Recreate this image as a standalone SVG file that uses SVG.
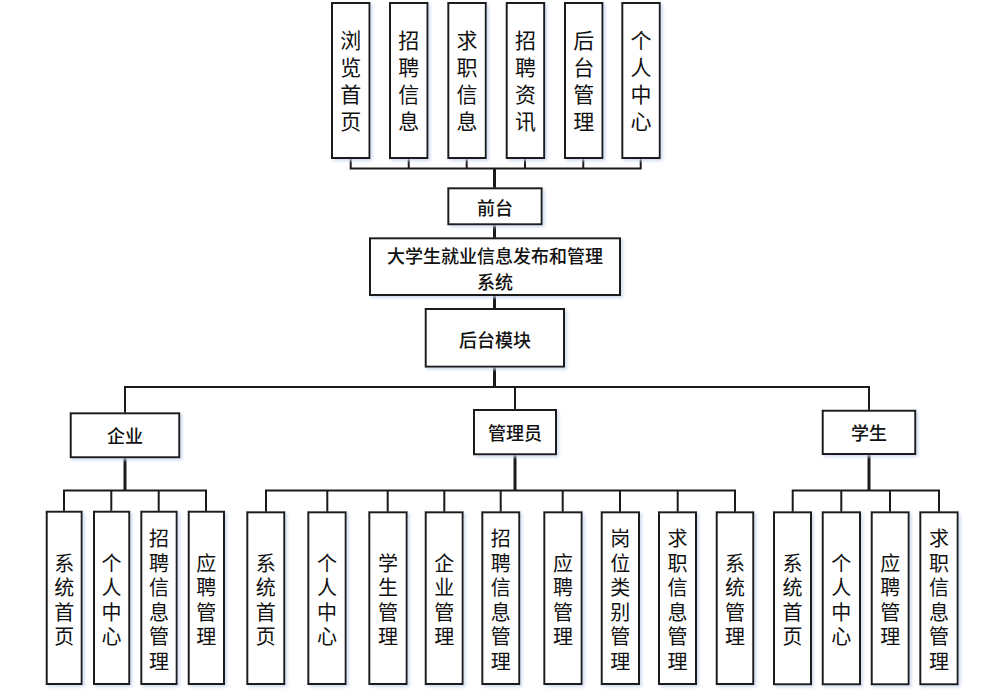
<svg xmlns="http://www.w3.org/2000/svg" width="982" height="694" viewBox="0 0 982 694">
<defs>
<filter id="sh" x="-20%" y="-20%" width="140%" height="140%">
<feDropShadow dx="2" dy="2" stdDeviation="1.5" flood-color="#c8d4ec" flood-opacity="0.8"/>
</filter>
<style>
rect{fill:#fff;stroke:#1a1a1a;stroke-width:2;filter:url(#sh)}
text{font-family:"Noto Sans CJK SC","Microsoft YaHei",sans-serif;fill:#111;text-anchor:middle;dominant-baseline:central}
.v{font-size:20px}
.vt{font-size:21px}
.h{font-size:18px;font-weight:500}
.c path,.c line{stroke:#1a1a1a;fill:none;stroke-width:2}
.c .t{stroke-width:3}
</style>
</defs>
<g class="c" id="connectors">
<path d="M350.7 158V168.5H640.7V158M408.7 158V168.5M466.7 158V168.5M525 158V168.5M583.3 158V168.5"/>
<line class="t" x1="494.5" y1="168.5" x2="494.5" y2="188"/>
<line class="t" x1="494.5" y1="224" x2="494.5" y2="238"/>
<line class="t" x1="494.5" y1="295" x2="494.5" y2="309"/>
<line class="t" x1="494.5" y1="367" x2="494.5" y2="387"/>
<path d="M125 413V387H869V410.5M515 387V410"/>
<line class="t" x1="125" y1="457" x2="125" y2="490.5"/>
<path d="M64 512V490.5H206V512M111.3 490.5V512M158.7 490.5V512"/>
<line class="t" x1="515" y1="454" x2="515" y2="490.5"/>
<path d="M266 512V490.5H735V512M327.3 490.5V512M387.7 490.5V512M444.3 490.5V512M500.7 490.5V512M562.7 490.5V512M620 490.5V512M677.7 490.5V512"/>
<line class="t" x1="869" y1="454" x2="869" y2="490.5"/>
<path d="M792.7 512V490.5H939V512M841.3 490.5V512M890 490.5V512"/>
</g>
<g id="n_liulan"><rect x="332" y="3" width="37.5" height="155"/><text class="vt" x="350.7"><tspan y="39">浏</tspan><tspan x="350.7" y="66">览</tspan><tspan x="350.7" y="93">首</tspan><tspan x="350.7" y="120">页</tspan></text></g>
<g id="n_zpxx"><rect x="390" y="3" width="37.5" height="155"/><text class="vt" x="408.7"><tspan y="39">招</tspan><tspan x="408.7" y="66">聘</tspan><tspan x="408.7" y="93">信</tspan><tspan x="408.7" y="120">息</tspan></text></g>
<g id="n_qzxx"><rect x="448.3" y="3" width="37.5" height="155"/><text class="vt" x="467"><tspan y="39">求</tspan><tspan x="467" y="66">职</tspan><tspan x="467" y="93">信</tspan><tspan x="467" y="120">息</tspan></text></g>
<g id="n_zpzx"><rect x="506.7" y="3" width="37.5" height="155"/><text class="vt" x="525.4"><tspan y="39">招</tspan><tspan x="525.4" y="66">聘</tspan><tspan x="525.4" y="93">资</tspan><tspan x="525.4" y="120">讯</tspan></text></g>
<g id="n_htgl"><rect x="565" y="3" width="37.5" height="155"/><text class="vt" x="583.7"><tspan y="39">后</tspan><tspan x="583.7" y="66">台</tspan><tspan x="583.7" y="93">管</tspan><tspan x="583.7" y="120">理</tspan></text></g>
<g id="n_grzx"><rect x="622.3" y="3" width="37.5" height="155"/><text class="vt" x="641"><tspan y="39">个</tspan><tspan x="641" y="66">人</tspan><tspan x="641" y="93">中</tspan><tspan x="641" y="120">心</tspan></text></g>
<g id="n_qiantai"><rect x="448.3" y="188.3" width="93.4" height="36"/><text class="h" x="495" y="207">前台</text></g>
<g id="n_system"><rect x="370" y="238.3" width="250" height="56.7"/><text class="h" x="495"><tspan y="254.5">大学生就业信息发布和管理</tspan><tspan x="495" y="280.5">系统</tspan></text></g>
<g id="n_houtai"><rect x="425.7" y="309" width="138.3" height="57.7"/><text class="h" x="495" y="339">后台模块</text></g>
<g id="n_qiye"><rect x="70.7" y="413.3" width="108.6" height="44"/><text class="h" x="125" y="435">企业</text></g>
<g id="n_admin"><rect x="474" y="410" width="82" height="44.3"/><text class="h" x="515" y="432">管理员</text></g>
<g id="n_student"><rect x="822.7" y="410.7" width="92.6" height="43.3"/><text class="h" x="869" y="432">学生</text></g>
<g id="q1"><rect x="46.7" y="511.7" width="35" height="172.3"/><text class="v" x="64.2"><tspan y="561.5">系</tspan><tspan x="64.2" y="586">统</tspan><tspan x="64.2" y="610.5">首</tspan><tspan x="64.2" y="635">页</tspan></text></g>
<g id="q2"><rect x="94" y="511.7" width="35.3" height="172.3"/><text class="v" x="111.6"><tspan y="561.5">个</tspan><tspan x="111.6" y="586">人</tspan><tspan x="111.6" y="610.5">中</tspan><tspan x="111.6" y="635">心</tspan></text></g>
<g id="q3"><rect x="141.3" y="511.7" width="35.4" height="172.3"/><text class="v" x="159"><tspan y="537">招</tspan><tspan x="159" y="561.5">聘</tspan><tspan x="159" y="586">信</tspan><tspan x="159" y="610.5">息</tspan><tspan x="159" y="635">管</tspan><tspan x="159" y="659.5">理</tspan></text></g>
<g id="q4"><rect x="188.7" y="511.7" width="35.3" height="172.3"/><text class="v" x="206.3"><tspan y="561.5">应</tspan><tspan x="206.3" y="586">聘</tspan><tspan x="206.3" y="610.5">管</tspan><tspan x="206.3" y="635">理</tspan></text></g>
<g id="a1"><rect x="247.3" y="512.3" width="37" height="171.7"/><text class="v" x="265.8"><tspan y="561.5">系</tspan><tspan x="265.8" y="586">统</tspan><tspan x="265.8" y="610.5">首</tspan><tspan x="265.8" y="635">页</tspan></text></g>
<g id="a2"><rect x="308.3" y="512.3" width="37.4" height="171.7"/><text class="v" x="327"><tspan y="561.5">个</tspan><tspan x="327" y="586">人</tspan><tspan x="327" y="610.5">中</tspan><tspan x="327" y="635">心</tspan></text></g>
<g id="a3"><rect x="369.3" y="512.3" width="37.4" height="171.7"/><text class="v" x="388"><tspan y="561.5">学</tspan><tspan x="388" y="586">生</tspan><tspan x="388" y="610.5">管</tspan><tspan x="388" y="635">理</tspan></text></g>
<g id="a4"><rect x="425.7" y="512.3" width="37" height="171.7"/><text class="v" x="444.2"><tspan y="561.5">企</tspan><tspan x="444.2" y="586">业</tspan><tspan x="444.2" y="610.5">管</tspan><tspan x="444.2" y="635">理</tspan></text></g>
<g id="a5"><rect x="482.3" y="512.3" width="37" height="171.7"/><text class="v" x="500.8"><tspan y="537">招</tspan><tspan x="500.8" y="561.5">聘</tspan><tspan x="500.8" y="586">信</tspan><tspan x="500.8" y="610.5">息</tspan><tspan x="500.8" y="635">管</tspan><tspan x="500.8" y="659.5">理</tspan></text></g>
<g id="a6"><rect x="544.3" y="512.3" width="37.4" height="171.7"/><text class="v" x="563"><tspan y="561.5">应</tspan><tspan x="563" y="586">聘</tspan><tspan x="563" y="610.5">管</tspan><tspan x="563" y="635">理</tspan></text></g>
<g id="a7"><rect x="601.7" y="512.3" width="37.3" height="171.7"/><text class="v" x="620.3"><tspan y="537">岗</tspan><tspan x="620.3" y="561.5">位</tspan><tspan x="620.3" y="586">类</tspan><tspan x="620.3" y="610.5">别</tspan><tspan x="620.3" y="635">管</tspan><tspan x="620.3" y="659.5">理</tspan></text></g>
<g id="a8"><rect x="659" y="512.3" width="37" height="171.7"/><text class="v" x="677.5"><tspan y="537">求</tspan><tspan x="677.5" y="561.5">职</tspan><tspan x="677.5" y="586">信</tspan><tspan x="677.5" y="610.5">息</tspan><tspan x="677.5" y="635">管</tspan><tspan x="677.5" y="659.5">理</tspan></text></g>
<g id="a9"><rect x="716.7" y="512.3" width="36.6" height="171.7"/><text class="v" x="735"><tspan y="561.5">系</tspan><tspan x="735" y="586">统</tspan><tspan x="735" y="610.5">管</tspan><tspan x="735" y="635">理</tspan></text></g>
<g id="s1"><rect x="774" y="512.3" width="37" height="172"/><text class="v" x="792.5"><tspan y="561.5">系</tspan><tspan x="792.5" y="586">统</tspan><tspan x="792.5" y="610.5">首</tspan><tspan x="792.5" y="635">页</tspan></text></g>
<g id="s2"><rect x="822.7" y="512.3" width="37.3" height="172"/><text class="v" x="841.3"><tspan y="561.5">个</tspan><tspan x="841.3" y="586">人</tspan><tspan x="841.3" y="610.5">中</tspan><tspan x="841.3" y="635">心</tspan></text></g>
<g id="s3"><rect x="871.7" y="512.3" width="37" height="172"/><text class="v" x="890.2"><tspan y="561.5">应</tspan><tspan x="890.2" y="586">聘</tspan><tspan x="890.2" y="610.5">管</tspan><tspan x="890.2" y="635">理</tspan></text></g>
<g id="s4"><rect x="920.3" y="512.3" width="37.4" height="172"/><text class="v" x="939"><tspan y="537">求</tspan><tspan x="939" y="561.5">职</tspan><tspan x="939" y="586">信</tspan><tspan x="939" y="610.5">息</tspan><tspan x="939" y="635">管</tspan><tspan x="939" y="659.5">理</tspan></text></g>
</svg>
